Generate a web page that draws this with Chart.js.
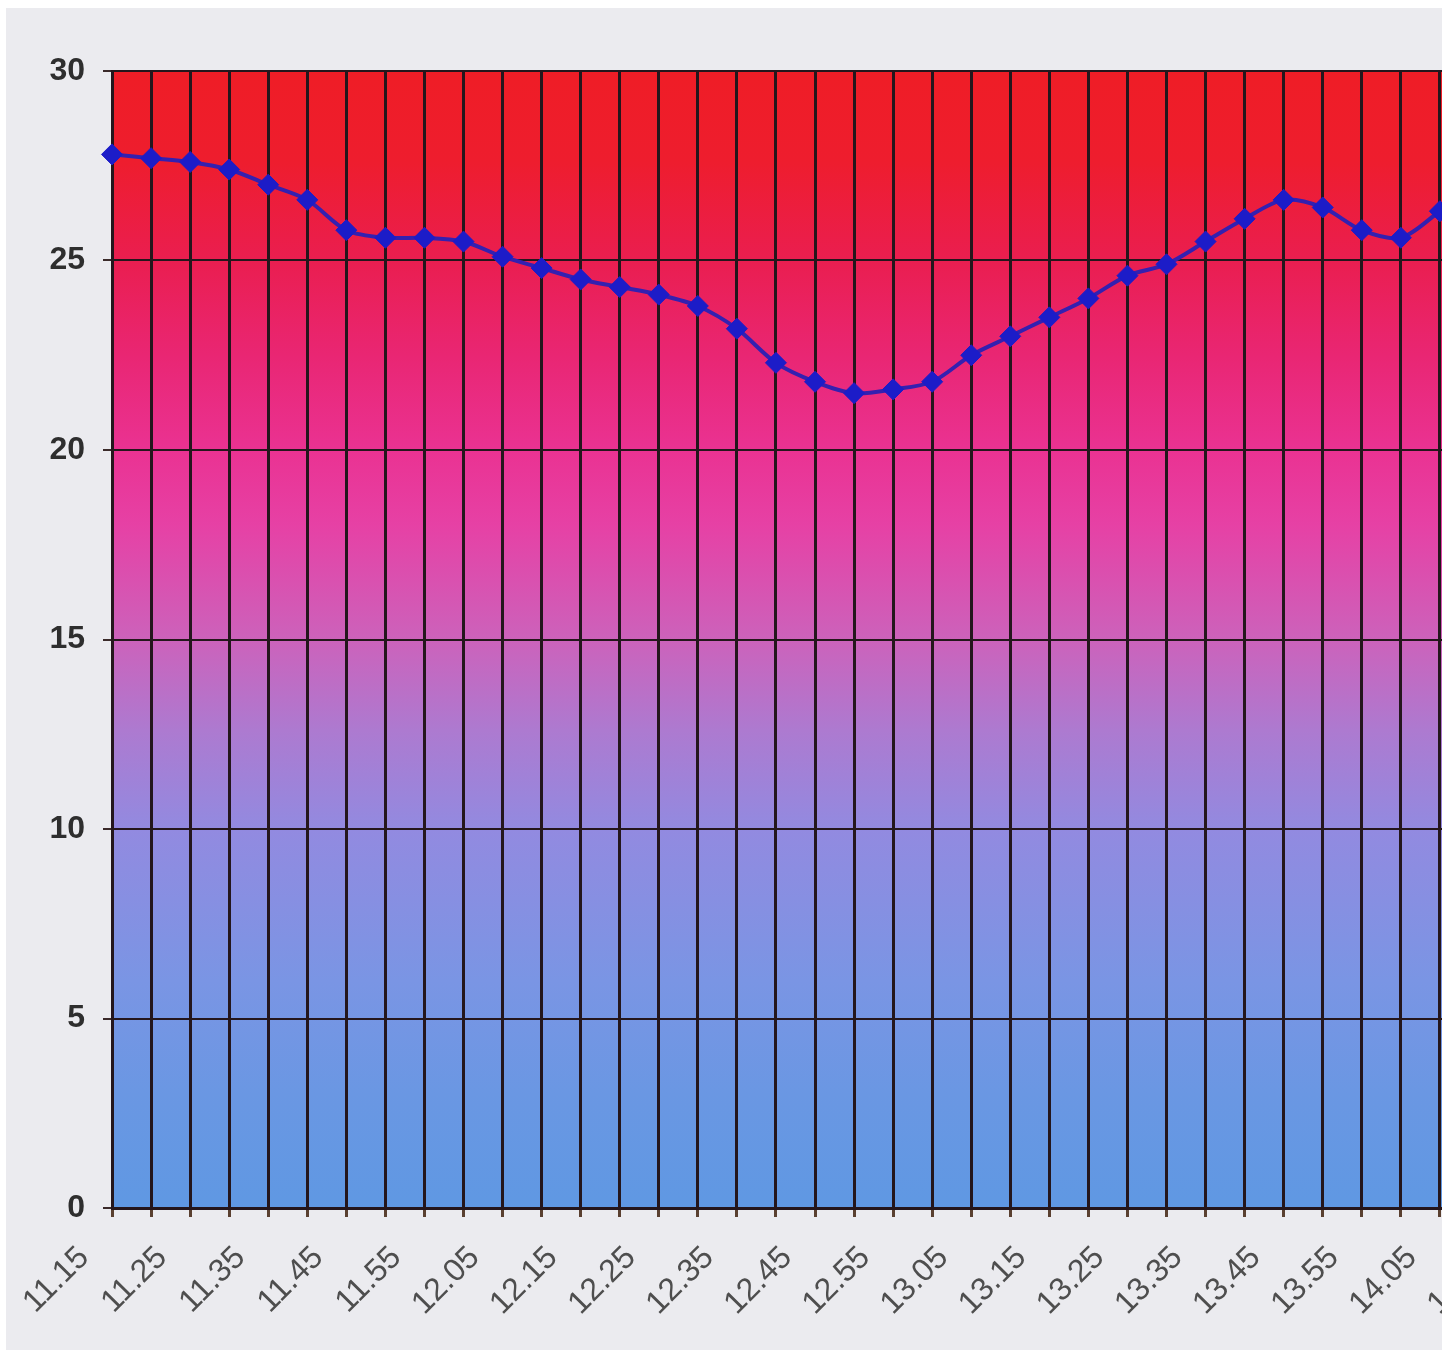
<!DOCTYPE html>
<html>
<head>
<meta charset="utf-8">
<script src="https://cdn.jsdelivr.net/npm/chart.js@4.4.1/dist/chart.umd.min.js"></script>
<style>
  html, body { margin:0; padding:0; background:#fff; overflow:hidden; }
  #wrap { position:absolute; left:6px; top:8px; width:1436px; height:1342px; background:#ebebef; overflow:hidden; }
  #chart { position:absolute; left:0; top:0; }
</style>
</head>
<body>
<div id="wrap"><canvas id="chart" width="1532" height="1342"></canvas></div>
<script>
// time of day, every 5 minutes
const times = [
  "11.15","11.20","11.25","11.30","11.35","11.40","11.45","11.50","11.55","12.00",
  "12.05","12.10","12.15","12.20","12.25","12.30","12.35","12.40","12.45","12.50",
  "12.55","13.00","13.05","13.10","13.15","13.20","13.25","13.30","13.35","13.40",
  "13.45","13.50","13.55","14.00","14.05","14.10","14.15"
];
const temps = [
  27.8, 27.7, 27.6, 27.4, 27.0, 26.6, 25.8, 25.6, 25.6, 25.5,
  25.1, 24.8, 24.5, 24.3, 24.1, 23.8, 23.2, 22.3, 21.8, 21.5,
  21.6, 21.8, 22.5, 23.0, 23.5, 24.0, 24.6, 24.9, 25.5, 26.1,
  26.6, 26.4, 25.8, 25.6, 26.3, null, null
];
const yTicks = [0, 5, 10, 15, 20, 25, 30];

// background colour by value (fraction of 30 from the bottom)
const bgStops = [
  [1.00, "#ef1d26"], [0.92, "#ee1d2e"], [0.833, "#ea1e50"],
  [0.75, "#e92673"], [0.667, "#ea3292"], [0.60, "#e641a5"],
  [0.50, "#cc62bb"], [0.42, "#ad7ad0"], [0.333, "#928ae0"],
  [0.20, "#7a95e4"], [0.10, "#6a97e3"], [0.00, "#5f98e3"]
];

const gradientBg = {
  id: "gradientBg",
  beforeDraw(chart){
    const {ctx, chartArea:a} = chart;
    const g = ctx.createLinearGradient(0, a.bottom, 0, a.top);
    bgStops.forEach(s => g.addColorStop(s[0], s[1]));
    ctx.save();
    ctx.fillStyle = g;
    ctx.fillRect(a.left, a.top, a.right - a.left, a.bottom - a.top);
    ctx.restore();
  }
};

const lineCol = "#3420b0";
const gridCol = "#24161c";

new Chart(document.getElementById("chart"), {
  type: "line",
  data: {
    labels: times,
    datasets: [{
      data: temps,
      borderColor: lineCol,
      borderWidth: 4,
      tension: 0.3,
      pointStyle: "rectRot",
      pointRadius: 10.5,
      pointBackgroundColor: "#1c1cc8",
      pointBorderColor: "#1c1cc8",
      pointBorderWidth: 1,
      clip: false
    }]
  },
  options: {
    responsive: false,
    animation: false,
    layout: { padding: { top: 63, right: 20, bottom: 0, left: 0 } },
    plugins: { legend: { display:false }, tooltip: { enabled:false } },
    scales: {
      x: {
        grid: { color: gridCol, lineWidth: 3, tickLength: 9, tickColor: "#5a4030", tickWidth: 3 },
        border: { color: gridCol, width: 3 },
        afterFit(s){ s.height = 142; s.paddingLeft = 0; s.paddingRight = 0; },
        ticks: {
          autoSkip: false,
          maxRotation: 45,
          minRotation: 45,
          labelOffset: -28,
          padding: 22,
          color: "#4e4e4e",
          font: { family: "'Liberation Sans', Arial, sans-serif", size: 32 },
          callback(v, i){ return i % 2 === 0 ? times[i] : ""; }
        }
      },
      y: {
        min: 0,
        max: 30,
        afterFit(s){ s.width = 106; s.paddingTop = 0; s.paddingBottom = 0; },
        afterBuildTicks(s){ s.ticks = yTicks.map(v => ({value:v})); },
        grid: { color: gridCol, lineWidth: 2, tickLength: 9, tickColor: "#3a2a2a" },
        border: { color: gridCol, width: 3 },
        ticks: {
          padding: 18,
          color: "#2e2e2e",
          font: { family: "'Liberation Sans', Arial, sans-serif", size: 32, weight: "bold" }
        }
      }
    }
  },
  plugins: [gradientBg]
});
</script>
</body>
</html>
